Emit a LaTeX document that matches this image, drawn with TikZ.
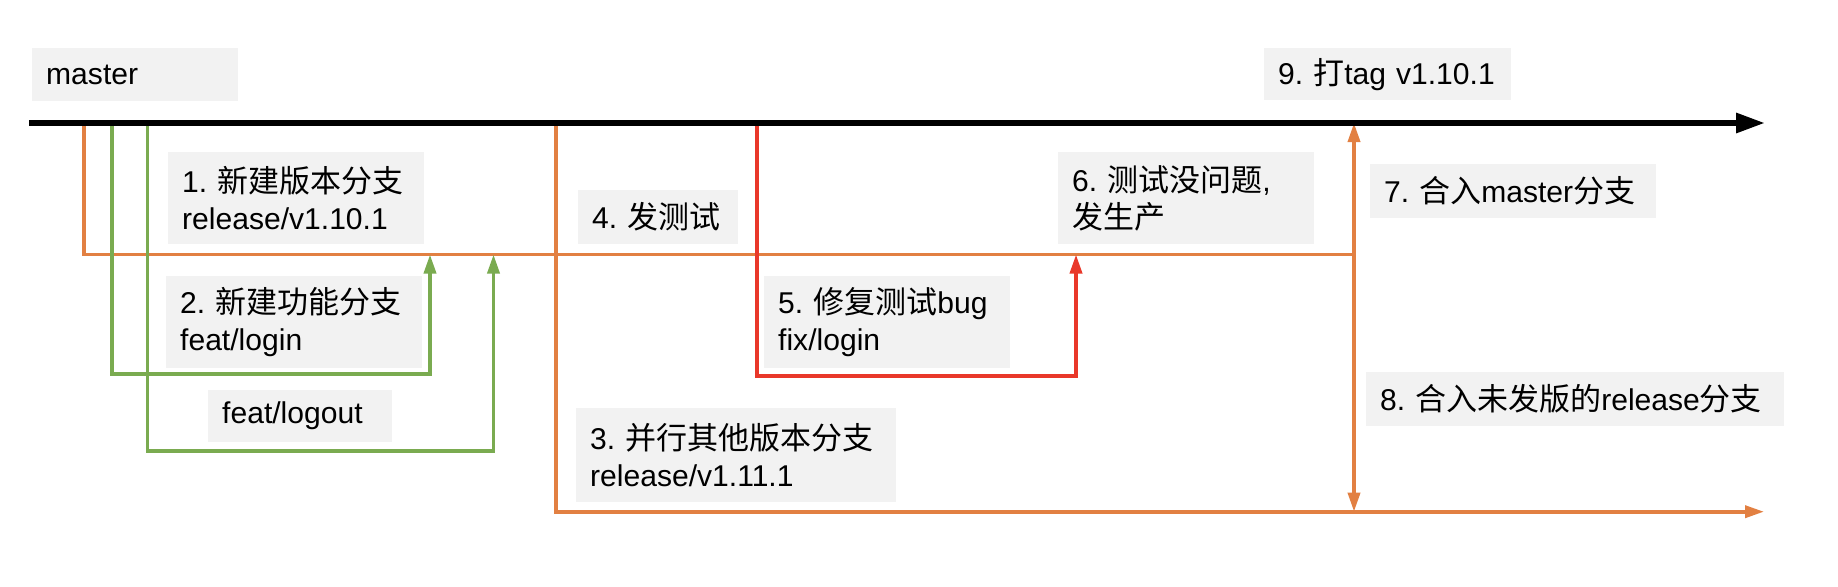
\documentclass[tikz,border=0pt]{standalone}
\usepackage{fontspec}
\setmainfont{Liberation Sans}[Scale=0.97]
\newfontfamily\cjk{Noto Sans CJK SC}
\usetikzlibrary{arrows.meta}

\definecolor{relorange}{RGB}{226,128,66}
\definecolor{featgreen}{RGB}{122,171,80}
\definecolor{fixred}{RGB}{233,56,42}
\definecolor{notegray}{RGB}{242,242,242}
\newcommand{\zh}[1]{{\cjk #1}}

\begin{document}
\begin{tikzpicture}[x=1pt, y=-1pt, >={Triangle[length=19pt, width=12pt]},
	every node/.style={font=\fontsize{31}{37}\selectfont\frenchspacing},
	note/.style 2 args={fill=notegray, anchor=north west, inner xsep=14pt, inner ysep=0pt, align=left, text width=#1, minimum height=#2},
	release/.style={draw=relorange, line width=3.6pt},
	feature/.style={draw=featgreen, line width=3.6pt},
	hotfix/.style={draw=fixred, line width=3.6pt}]
	\useasboundingbox (0,0) rectangle (1838,586);

	% branch points on master and merge points
	\coordinate (m-start) at (29,123);
	\coordinate (m-end) at (1765,123);
	\coordinate (rel-fork) at (84,123);
	\coordinate (login-fork) at (112,123);
	\coordinate (logout-fork) at (147.5,123);
	\coordinate (next-fork) at (556,123);
	\coordinate (fix-fork) at (757,123);
	\coordinate (login-in) at (430,254.5);
	\coordinate (logout-in) at (493.5,254.5);
	\coordinate (fix-in) at (1076,254.5);
	\coordinate (merge) at (1354,254.5);
	\coordinate (merge-top) at (1354,123);
	\coordinate (merge-bot) at (1354,511.7);
	\coordinate (next-end) at (1764,511.7);

	% labels
	\node[note={178pt}{53pt}] (master) at (32,48) {master};
	\node[note={228pt}{92pt}] (step1) at (168,152) {1.~\zh{新建版本分支}\\release/v1.10.1};
	\node[note={228pt}{92pt}] (step2) at (166,276) {2.~\zh{新建功能分支}\\feat/login};
	\node[note={156pt}{52pt}] (logout) at (208,390) {feat/logout};
	\node[note={292pt}{94pt}] (step3) at (576,408) {3.~\zh{并行其他版本分支}\\release/v1.11.1};
	\node[note={132pt}{54pt}] (step4) at (578,190) {4.~\zh{发测试}};
	\node[note={218pt}{92pt}] (step5) at (764,276) {5.~\zh{修复测试}bug\\fix/login};
	\node[note={228pt}{92pt}] (step6) at (1058,152) {6.~\zh{测试没问题},\\\zh{发生产}};
	\node[note={258pt}{54pt}] (step7) at (1370,164) {7.~\zh{合入}master\zh{分支}};
	\node[note={390pt}{54pt}] (step8) at (1366,372) {8.~\zh{合入未发版的}release\zh{分支}};
	\node[note={219pt}{52pt}] (step9) at (1264,48) {9.~\zh{打}tag~v1.10.1};

	% branches
	\draw[release] (rel-fork) |- (merge);
	\draw[release, ->] (merge) -- (merge-top);
	\draw[release, ->] (merge) -- (merge-bot);
	\draw[release, ->] (next-fork) |- (next-end);
	\draw[feature, ->] (login-fork) -- ++(0,251) -| (login-in);
	\draw[feature, ->] (logout-fork) -- ++(0,328) -| (logout-in);
	\draw[hotfix, ->] (fix-fork) -- ++(0,252.7) -| (fix-in);

	% master
	\draw[line width=6pt, -{Triangle[length=29pt, width=19pt]}] (m-start) -- (m-end);
\end{tikzpicture}
\end{document}
